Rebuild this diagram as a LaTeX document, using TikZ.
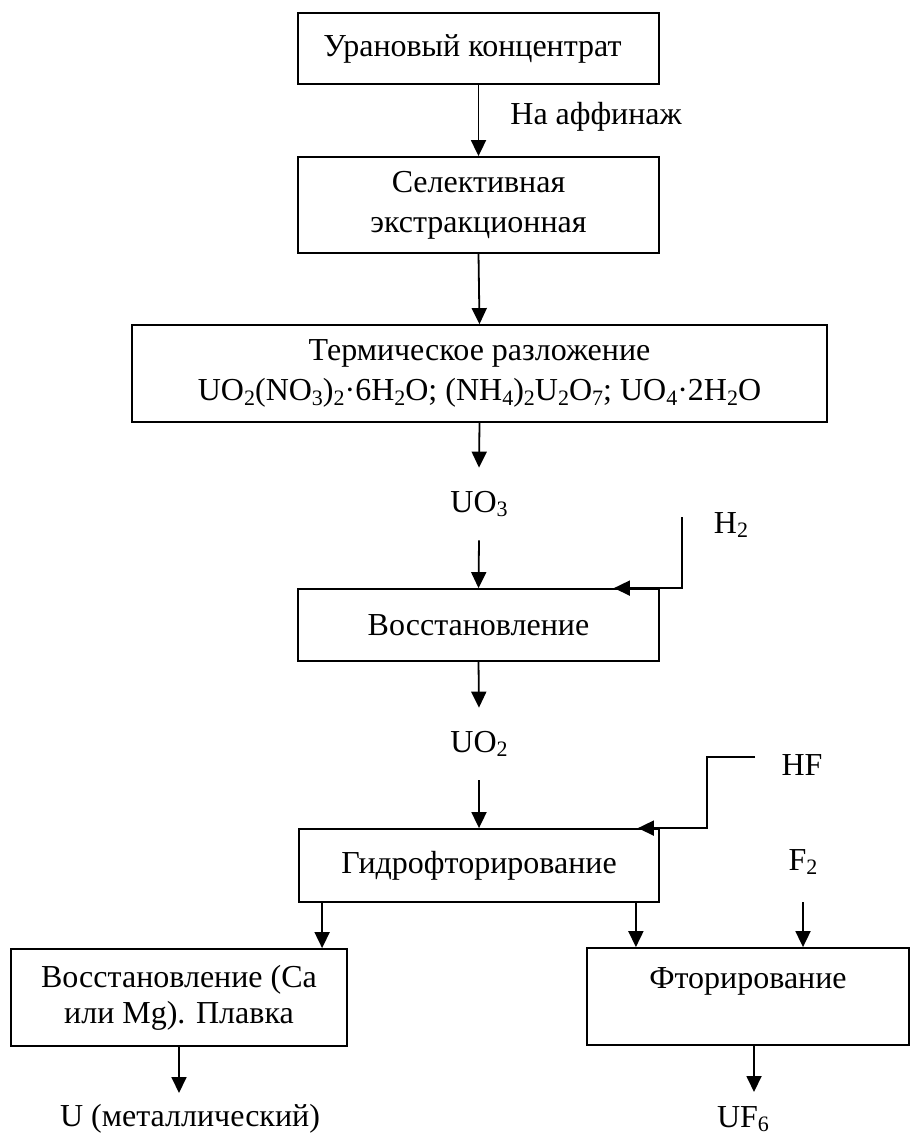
\documentclass[tikz,border=0pt]{standalone}
\usepackage{fontspec}
\setmainfont{Liberation Serif}
\usetikzlibrary{arrows.meta}
\newcommand{\chs}[1]{\raisebox{-0.32ex}{\fontsize{11}{11}\selectfont #1}}
\begin{document}
\begin{tikzpicture}[x=0.5pt,y=-0.5pt,
  every node/.style={font=\fontsize{16}{20}\selectfont},
  box/.style={draw, line width=0.9pt, inner sep=0pt, align=center},
  lbl/.style={inner sep=0pt},
  arr/.style={line width=0.9pt, -{Triangle[length=8pt,width=7.5pt]}}]
\useasboundingbox (0,0) rectangle (910,1138);
% boxes
\node[box, minimum width=180.5pt, minimum height=35.5pt] (b1) at (478.5,48.5) {Урановый концентрат\hspace{6pt}};
\node[box, minimum width=180.5pt, minimum height=48pt] (b2) at (478.5,205) {Селективная\\экстракционная};
\node[box, minimum width=347.5pt, minimum height=48.5pt] (b3) at (479.5,373.5) {Термическое разложение\\UO\chs{2}(NO\chs{3})\chs{2}·6H\chs{2}O; (NH\chs{4})\chs{2}U\chs{2}O\chs{7}; UO\chs{4}·2H\chs{2}O};
\node[lbl, minimum height=36pt] (uo3) at (479,504) {UO\chs{3}};
\node[box, minimum width=180.5pt, minimum height=36pt] (b4) at (478.5,625) {Восстановление};
\node[lbl, minimum height=36pt] (uo2) at (479,744) {UO\chs{2}};
\node[box, minimum width=180pt, minimum height=36.5pt] (b5) at (479,865.5) {Гидрофторирование};
\node[box, minimum width=168pt, minimum height=48.5pt, font=\fontsize{16}{18}\selectfont] (b6) at (179,997.5) {Восстановление (Ca\\или Mg). Плавка};
\node[box, minimum width=161pt, minimum height=48.5pt, font=\fontsize{16}{18}\selectfont] (b7) at (748,996.5) {Фторирование\\\mbox{}};
% labels
\node[lbl, anchor=west] (aff) at (510,117) {На аффинаж};
\node[lbl] (h2) at (731,525) {H\chs{2}};
\node[lbl] (hf) at (802,765) {HF};
\node[lbl] (f2) at (803,862) {F\chs{2}};
\node[lbl] (umet) at (190,1119) {U (металлический)};
\node[lbl] (uf6) at (743,1119) {UF\chs{6}};
% connectors
\draw[arr] (b1.south) -- (b2.north);
\draw[arr] (b2.south) -- (b3.north);
\draw[arr] (b3.south) -- (uo3.north);
\draw[arr] (uo3.south) -- (b4.north);
\coordinate (h2s) at (682,517);
\coordinate (h2e) at ([xshift=-23pt]b4.north east);
\draw[arr] (h2s) |- (h2e);
\draw[arr] (b4.south) -- (uo2.north);
\draw[arr] (uo2.south) -- (b5.north);
\coordinate (hfs) at (755,757);
\coordinate (hfe) at ([xshift=-11pt]b5.north east);
\draw[arr] (hfs) -- ++(-48,0) |- (hfe);
\coordinate (l5) at ([xshift=12pt]b5.south west);
\draw[arr] (l5) -- (l5 |- b6.north);
\coordinate (r5) at ([xshift=-12pt]b5.south east);
\draw[arr] (r5) -- (r5 |- b7.north);
\coordinate (f2s) at (803,902);
\draw[arr] (f2s) -- (f2s |- b7.north);
\coordinate (ue) at (179,1093);
\draw[arr] (b6.south) -- (ue);
\coordinate (fe) at (754,1092);
\draw[arr] (b7.south -| fe) -- (fe);
\end{tikzpicture}
\end{document}
